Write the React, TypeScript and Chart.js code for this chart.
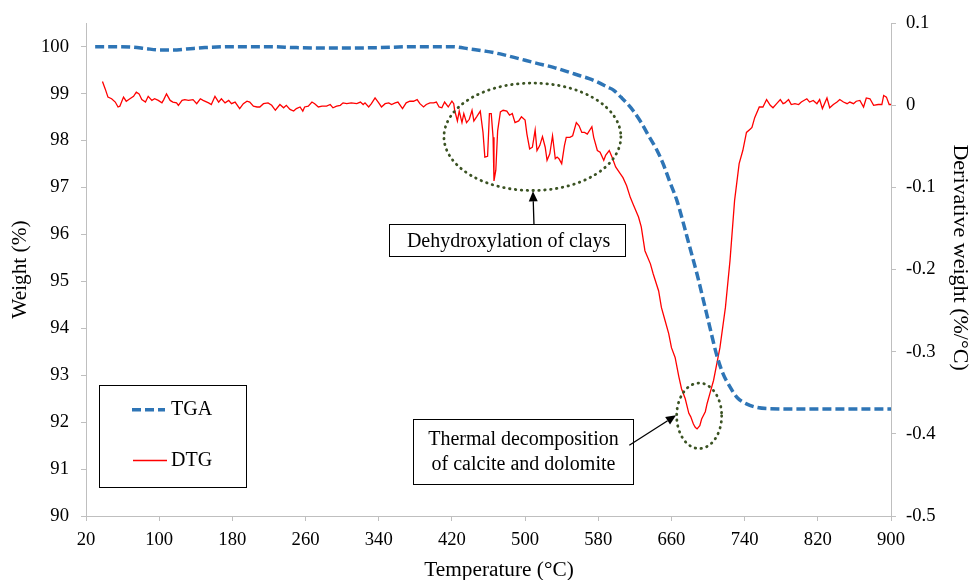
import React, { useEffect, useRef } from 'react';
import { Chart, registerables } from 'chart.js';

Chart.register(...registerables);

// ---------- data ----------
const tgaTemp = [30, 50, 70, 85, 100, 115, 130, 150, 180, 220, 250, 300, 340, 380, 420, 440, 458, 476, 494, 512, 531, 549, 560, 570, 580, 590, 597, 605, 612, 618, 627, 636, 644, 651, 658, 666, 673, 680, 688, 695, 702, 709, 716, 724, 732, 742, 752, 764, 800, 850, 900];
const tgaWeight = [100.0, 100.0, 99.99, 99.96, 99.93, 99.93, 99.95, 99.98, 100.0, 100.0, 99.98, 99.97, 99.98, 100.0, 100.0, 99.95, 99.9, 99.83, 99.74, 99.65, 99.56, 99.45, 99.38, 99.32, 99.24, 99.14, 99.07, 98.92, 98.78, 98.64, 98.38, 98.07, 97.8, 97.5, 97.13, 96.72, 96.24, 95.73, 95.15, 94.59, 94.02, 93.46, 93.05, 92.75, 92.52, 92.39, 92.32, 92.29, 92.28, 92.28, 92.28];

const dtgTemp = [38, 41, 44, 48, 52, 55, 57, 61, 64, 68, 72, 75, 78, 81, 85, 88, 92, 95, 99, 103, 105, 108, 112, 115, 119, 121, 125, 128, 132, 137, 141, 145, 148, 154, 157, 161, 165, 168, 172, 176, 179, 183, 188, 192, 196, 199, 203, 207, 210, 214, 219, 223, 227, 232, 236, 239, 243, 247, 250, 254, 257, 259, 263, 267, 270, 274, 278, 283, 287, 290, 294, 298, 301, 305, 310, 316, 320, 323, 325, 329, 332, 336, 340, 343, 347, 351, 354, 358, 361, 366, 370, 374, 378, 382, 385, 389, 392, 396,
  400, 403, 406, 409, 412, 416, 420, 422, 423, 426, 428, 431, 433, 436, 439, 442, 444, 447, 451, 454, 456, 459, 461, 463, 465, 466, 468, 470, 473, 476, 480, 483, 486, 489, 493, 496, 500, 502, 505, 508, 511, 513, 516, 519, 522, 524, 527, 530, 533, 535, 537, 540, 543, 545, 549, 552, 556, 559, 562, 565, 568, 573, 575, 579, 582, 586, 588, 592, 595, 599, 604, 607, 611, 615,
  618, 624, 627, 631, 637, 640, 646, 649, 653, 657, 660, 664, 668, 671, 675, 679, 681, 684, 686, 688, 691, 693, 697, 699, 702, 705, 706, 713, 719, 724, 729, 734, 738, 742, 746, 748, 751, 756, 760, 764, 768, 771, 775, 779, 782, 784, 788, 791, 795, 799, 802, 808, 811, 815, 819, 822, 825, 830, 833, 837, 841, 844, 848, 852, 855, 859, 862, 866, 870, 873, 877, 881, 886, 890, 892, 895, 898, 900];
const dtgDeriv = [0.029, 0.02, 0.01, 0.008, 0.004, -0.002, -0.001, 0.01, 0.005, 0.008, 0.011, 0.016, 0.014, 0.007, 0.004, 0.011, 0.006, 0.008, 0.006, 0.003, 0.007, 0.014, 0.006, 0.004, 0.003, 0.0, 0.006, 0.007, 0.006, 0.007, 0.002, 0.008, 0.006, 0.003, 0.001, 0.011, 0.004, 0.008, 0.003, 0.006, 0.002, 0.004, -0.004, 0.002, 0.005, 0.004, -0.001, -0.002, -0.002, 0.002, 0.003, 0.0, -0.006, 0.001, -0.003, 0.0, -0.005, -0.007, -0.004, -0.002, -0.007, -0.002, -0.001, 0.004, 0.002, -0.002, -0.001, -0.001, 0.001, -0.003, -0.001, 0.0, 0.003, 0.002, 0.003, 0.002, 0.004, 0.001, 0.003, -0.002, 0.002, 0.009, 0.003, -0.002, 0.002, 0.003, 0.001, 0.003, 0.004, -0.004, 0.003, 0.005, 0.005, 0.007, 0.002, -0.002, 0.001, 0.003,
  0.003, 0.004, -0.002, -0.003, 0.004, -0.002, 0.005, 0.002, -0.006, -0.019, -0.007, -0.021, -0.01, -0.021, -0.017, -0.006, -0.019, -0.014, -0.007, -0.033, -0.063, -0.062, -0.01, -0.01, -0.039, -0.092, -0.079, -0.031, -0.008, -0.006, -0.007, -0.012, -0.01, -0.021, -0.019, -0.014, -0.018, -0.035, -0.053, -0.051, -0.03, -0.055, -0.049, -0.038, -0.051, -0.067, -0.059, -0.037, -0.065, -0.063, -0.065, -0.071, -0.049, -0.039, -0.039, -0.037, -0.021, -0.025, -0.033, -0.033, -0.035, -0.026, -0.039, -0.055, -0.057, -0.067, -0.061, -0.055, -0.063, -0.075, -0.083, -0.088, -0.098, -0.112,
  -0.12, -0.136, -0.148, -0.177, -0.193, -0.205, -0.226, -0.246, -0.262, -0.278, -0.295, -0.307, -0.33, -0.345, -0.357, -0.375, -0.379, -0.388, -0.392, -0.394, -0.39, -0.382, -0.373, -0.363, -0.351, -0.339, -0.335, -0.295, -0.246, -0.189, -0.116, -0.071, -0.055, -0.033, -0.029, -0.027, -0.015, -0.002, -0.002, 0.007, 0.0, -0.003, 0.002, 0.007, 0.002, 0.003, 0.007, 0.001, 0.002, 0.001, 0.004, 0.008, 0.004, 0.006, 0.002, 0.007, -0.004, 0.009, -0.003, 0.001, 0.004, 0.007, 0.004, 0.002, 0.004, 0.002, 0.005, 0.006, -0.002, 0.009, 0.008, 0.0, 0.001, 0.001, 0.012, 0.01, 0.001, 0.001];

const seriesLabels = ['TGA', 'DTG'];
const xTitle = 'Temperature (°C)';
const yTitle = 'Weight (%)';
const y1Title = 'Derivative weight (%/°C)';

// annotations in data units (temperature, derivative weight)
const ellipses = [
  { t: 508, d: -0.0383, rt: 96.7, rd: 0.0654 },
  { t: 690.3, d: -0.378, rt: 24.6, rd: 0.0399 },
];
const boxes = [
  { t0: 351.6, t1: 610, d0: -0.145, d1: -0.184, lines: ['Dehydroxylation of clays'] },
  { t0: 377.1, t1: 617.2, d0: -0.3814, d1: -0.4605, lines: ['Thermal decomposition', 'of calcite and dolomite'] },
];
const arrows = [
  { t0: 509.7, d0: -0.145, t1: 508.6, d1: -0.1047 },
  { t0: 613.9, d0: -0.4139, t1: 665, d1: -0.3774 },
];

const SERIF = '"Liberation Serif", "Times New Roman", serif';
const TGA_COLOR = '#2e75b6';
const DTG_COLOR = '#ff0000';
const AXIS_COLOR = '#bfbfbf';

const overlayPlugin = {
  id: 'overlay',
  afterDatasetsDraw(chart: any) {
    const { ctx, scales, chartArea } = chart;
    const x = scales.x;
    const y1 = scales.y1;
    const px = (t: number) => x.getPixelForValue(t);
    const py = (d: number) => y1.getPixelForValue(d);
    ctx.save();

    // ellipses
    for (const e of ellipses) {
      const cx = px(e.t);
      const cy = py(e.d);
      const rx = Math.abs(px(e.t + e.rt) - cx);
      const ry = Math.abs(py(e.d + e.rd) - cy);
      ctx.beginPath();
      ctx.ellipse(cx, cy, rx, ry, 0, 0, Math.PI * 2);
      ctx.setLineDash([0.5, 5.4]);
      ctx.lineCap = 'round';
      ctx.lineWidth = 2.8;
      ctx.strokeStyle = '#3b5323';
      ctx.stroke();
    }
    ctx.setLineDash([]);
    ctx.lineCap = 'butt';

    // boxes
    ctx.font = `20px ${SERIF}`;
    ctx.textAlign = 'center';
    ctx.textBaseline = 'middle';
    for (const b of boxes) {
      const l = px(b.t0), r = px(b.t1), t = py(b.d0), bt = py(b.d1);
      ctx.fillStyle = '#ffffff';
      ctx.fillRect(l, t, r - l, bt - t);
      ctx.lineWidth = 1;
      ctx.strokeStyle = '#000000';
      ctx.strokeRect(Math.round(l) + 0.5, Math.round(t) + 0.5, Math.round(r - l), Math.round(bt - t));
      ctx.fillStyle = '#000000';
      const n = b.lines.length;
      const lh = 24.5;
      const cy = (t + bt) / 2;
      b.lines.forEach((s, i) => {
        ctx.fillText(s, (l + r) / 2 + 1, cy + (i - (n - 1) / 2) * lh + 1);
      });
    }

    // arrows
    for (const a of arrows) {
      const x0 = px(a.t0), y0 = py(a.d0), x1 = px(a.t1), y1p = py(a.d1);
      const ang = Math.atan2(y1p - y0, x1 - x0);
      const len = 10, hw = 4.5;
      const bx = x1 - len * Math.cos(ang), by = y1p - len * Math.sin(ang);
      ctx.beginPath();
      ctx.moveTo(x0, y0);
      ctx.lineTo(bx, by);
      ctx.lineWidth = 1.3;
      ctx.strokeStyle = '#000000';
      ctx.stroke();
      ctx.beginPath();
      ctx.moveTo(x1, y1p);
      ctx.lineTo(bx + hw * Math.sin(ang), by - hw * Math.cos(ang));
      ctx.lineTo(bx - hw * Math.sin(ang), by + hw * Math.cos(ang));
      ctx.closePath();
      ctx.fillStyle = '#000000';
      ctx.fill();
    }

    // legend
    const lx = chartArea.left + 12.7;
    const ly = chartArea.top + 361.3;
    const lw = 147;
    const lhgt = 101.7;
    ctx.fillStyle = '#ffffff';
    ctx.fillRect(lx, ly, lw, lhgt);
    ctx.lineWidth = 1;
    ctx.strokeStyle = '#000000';
    ctx.strokeRect(Math.round(lx) + 0.5, Math.round(ly) + 0.5, Math.round(lw), Math.round(lhgt));
    ctx.beginPath();
    ctx.moveTo(lx + 33.3, ly + 25.3);
    ctx.lineTo(lx + 66.3, ly + 25.3);
    ctx.setLineDash([9, 4]);
    ctx.lineWidth = 3.5;
    ctx.strokeStyle = TGA_COLOR;
    ctx.stroke();
    ctx.setLineDash([]);
    ctx.beginPath();
    ctx.moveTo(lx + 34.3, ly + 76);
    ctx.lineTo(lx + 68.3, ly + 76);
    ctx.lineWidth = 1.3;
    ctx.strokeStyle = DTG_COLOR;
    ctx.stroke();
    ctx.fillStyle = '#000000';
    ctx.textAlign = 'left';
    ctx.textBaseline = 'middle';
    ctx.font = `20px ${SERIF}`;
    ctx.fillText(seriesLabels[0], lx + 72.3, ly + 25.3);
    ctx.fillText(seriesLabels[1], lx + 72.3, ly + 76);

    // axis titles
    const midY = (chartArea.top + chartArea.bottom) / 2;
    ctx.textAlign = 'center';
    ctx.textBaseline = 'middle';
    ctx.font = `21.3px ${SERIF}`;
    ctx.fillText(xTitle, chartArea.left + 413, chartArea.bottom + 54);
    ctx.save();
    ctx.translate(20, midY);
    ctx.rotate(-Math.PI / 2);
    ctx.font = `21.3px ${SERIF}`;
    ctx.fillText(yTitle, 0, 0);
    ctx.restore();
    ctx.save();
    ctx.translate(chartArea.right + 69, midY - 12);
    ctx.rotate(Math.PI / 2);
    ctx.font = `22px ${SERIF}`;
    ctx.fillText(y1Title, 0, 0);
    ctx.restore();

    ctx.restore();
  },
};

export default function App() {
  const ref = useRef<HTMLCanvasElement>(null);
  useEffect(() => {
    const canvas = ref.current;
    if (!canvas) return;
    const tickFont = { family: SERIF, size: 18.67 };
    const chart = new Chart(canvas, {
      type: 'line',
      data: {
        datasets: [
          {
            label: seriesLabels[0],
            data: tgaTemp.map((t, i) => ({ x: t, y: tgaWeight[i] })),
            yAxisID: 'y',
            borderColor: TGA_COLOR,
            borderWidth: 3.5,
            borderDash: [9, 4],
            pointRadius: 0,
            cubicInterpolationMode: 'monotone',
            fill: false,
          },
          {
            label: seriesLabels[1],
            data: dtgTemp.map((t, i) => ({ x: t, y: dtgDeriv[i] })),
            yAxisID: 'y1',
            borderColor: DTG_COLOR,
            borderWidth: 1.3,
            pointRadius: 0,
            tension: 0,
            fill: false,
          },
        ],
      },
      options: {
        responsive: false,
        devicePixelRatio: 1,
        animation: false,
        layout: { padding: { top: 23, left: 0, right: 0, bottom: 0 } },
        plugins: { legend: { display: false }, tooltip: { enabled: false } },
        scales: {
          x: {
            type: 'linear',
            min: 20,
            max: 900,
            ticks: { stepSize: 80, font: tickFont, color: '#000', padding: 8, maxRotation: 0 },
            grid: { drawOnChartArea: false, tickLength: 5, color: AXIS_COLOR },
            border: { color: AXIS_COLOR, width: 1 },
            title: { display: false, text: xTitle },
            afterFit: (s: any) => { s.height = 64; },
          },
          y: {
            type: 'linear',
            position: 'left',
            min: 90,
            max: 100.5,
            ticks: { stepSize: 1, font: tickFont, color: '#000', padding: 12 },
            afterBuildTicks: (s: any) => { s.ticks = s.ticks.filter((t: any) => Math.abs(t.value - Math.round(t.value)) < 1e-9); },
            grid: { drawOnChartArea: false, tickLength: 5, color: AXIS_COLOR },
            border: { color: AXIS_COLOR, width: 1 },
            title: { display: false, text: yTitle },
            afterFit: (s: any) => { s.width = 86; },
          },
          y1: {
            type: 'linear',
            position: 'right',
            min: -0.5,
            max: 0.1,
            ticks: {
              stepSize: 0.1,
              font: tickFont,
              color: '#000',
              padding: 10,
              callback: (v: any) => { const r = Math.round(Number(v) * 10) / 10; return r === 0 ? '0' : String(r); },
            },
            grid: { drawOnChartArea: false, tickLength: 5, color: AXIS_COLOR },
            border: { color: AXIS_COLOR, width: 1 },
            title: { display: false, text: y1Title },
            afterFit: (s: any) => { s.width = 81; },
          },
        },
      },
      plugins: [overlayPlugin],
    } as any);
    return () => chart.destroy();
  }, []);
  return (
    <div style={{ position: 'fixed', left: 0, top: 0, width: 972, height: 580, background: '#ffffff' }}>
      <canvas ref={ref} width={972} height={580} style={{ display: 'block' }} />
    </div>
  );
}
